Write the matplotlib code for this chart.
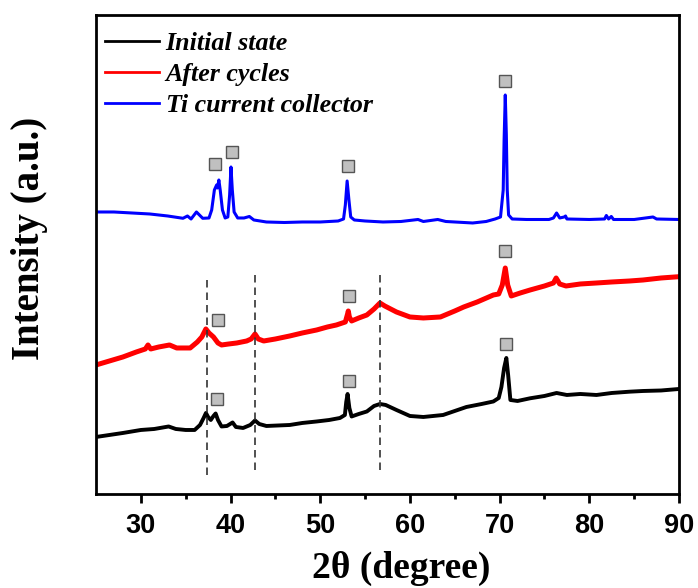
import matplotlib
matplotlib.use("Agg")
import matplotlib.pyplot as plt

# 2-theta positions (degree) and stacked intensities (a.u.) for each pattern
ti_2theta = [25.0, 27.0, 29.0, 31.0, 33.0, 34.7, 35.2, 35.6, 36.2, 36.9, 37.6, 37.9,
             38.2, 38.45, 38.55, 38.7, 38.85, 39.1, 39.4, 39.7, 39.9, 40.05, 40.2, 40.4,
             40.8, 41.5, 42.1, 42.6, 44.0, 46.0, 48.0, 50.0, 52.0, 52.6, 52.8, 53.0,
             53.2, 53.4, 53.8, 55.0, 57.0, 59.0, 60.9, 61.5, 63.1, 64.0, 66.0, 67.0,
             68.5, 69.5, 70.1, 70.4, 70.5, 70.63, 70.75, 70.85, 71.0, 71.4, 73.0, 75.5,
             76.0, 76.35, 76.7, 77.2, 77.35, 77.5, 80.0, 81.7, 81.9, 82.15, 82.45, 82.7,
             85.0, 87.1, 87.5, 90.0]
ti_intensity = [288, 288, 287, 286, 284, 281.7, 284, 281, 288, 281.7, 282, 290,
                310, 315, 312, 320, 310, 290, 282, 283, 305, 333, 310, 288,
                282, 282, 283.5, 280, 278, 277.5, 278, 278, 279, 281, 295, 319,
                300, 283, 280, 279, 278, 278.5, 280.5, 278.5, 280.5, 278.5, 277.5, 277,
                278.5, 281, 283, 310, 360, 405, 365, 310, 285, 281, 280.5, 280.5,
                282, 287, 282, 283, 284, 281, 280.5, 281, 284.5, 281, 283.5, 280.5,
                280.5, 283, 281, 280.5]

cyc_2theta = [25.0, 26.5, 28.0, 29.5, 30.5, 30.8, 31.1, 32.0, 33.2, 34.0, 35.5, 36.3,
              36.8, 37.25, 37.6, 38.1, 38.6, 39.0, 39.8, 40.7, 41.8, 42.3, 42.73, 43.1,
              43.7, 45.0, 46.6, 48.0, 49.6, 50.8, 51.8, 52.8, 53.05, 53.13, 53.25, 53.5,
              54.3, 55.2, 56.0, 56.66, 57.2, 58.5, 60.0, 61.5, 63.4, 65.0, 66.0, 67.5,
              69.3, 69.9, 70.3, 70.63, 70.9, 71.3, 72.3, 73.4, 75.0, 76.0, 76.3, 76.7,
              77.4, 79.0, 80.8, 82.5, 84.5, 86.0, 88.0, 90.0]
cyc_intensity = [135, 139, 143, 148, 151, 155, 151, 153, 155, 152, 152, 158,
                 163, 171, 167, 163, 157, 155, 156, 157, 159, 161, 166, 161,
                 159, 161, 164, 167, 170, 173, 175, 178, 186, 189, 183, 179,
                 182, 185, 191, 197, 194, 188, 183, 182, 183, 189, 193, 198,
                 205, 206, 215, 232, 215, 204, 207, 210, 214, 217, 222, 216,
                 214, 216, 217, 218, 219, 220, 222, 223.3]

init_2theta = [25.0, 26.5, 28.0, 30.0, 31.5, 33.1, 33.9, 35.0, 36.0, 36.6, 37.0, 37.26,
               37.5, 37.8, 38.1, 38.34, 38.6, 39.0, 39.6, 40.23, 40.6, 41.4, 42.2, 42.73,
               43.2, 44.0, 46.6, 48.0, 49.6, 51.0, 52.2, 52.75, 52.9, 53.05, 53.25, 53.5,
               54.3, 55.2, 56.0, 56.66, 57.3, 58.5, 60.0, 61.5, 63.7, 65.0, 66.3, 68.0,
               69.3, 69.9, 70.2, 70.5, 70.75, 70.95, 71.2, 72.0, 73.4, 75.0, 76.35, 77.5,
               79.0, 80.8, 82.5, 84.5, 86.0, 88.0, 90.0]
init_intensity = [63, 65, 67, 70, 71, 73.5, 71, 70, 70, 75, 82, 87,
                  83, 80, 84, 86.5, 80, 73.5, 74, 77.5, 73, 72, 75, 79.5,
                  76, 74, 75, 77, 78.5, 80, 82, 85, 98, 106, 92, 83.5,
                  86, 88.5, 94, 96, 95, 90, 84, 83, 85, 89, 93, 96,
                  98.5, 102, 113, 132, 142, 125, 100, 99, 101.7, 104, 107, 105,
                  106, 105, 107, 108.3, 109, 109.5, 111]

# Ti reflections marked on each pattern
ti_mark_2theta = [38.27, 40.2, 53.06, 70.6]
ti_mark_level = [336, 348, 334.3, 419]
cyc_mark_2theta = [38.56, 53.25, 70.6]
cyc_mark_level = [180, 204, 249]
init_mark_2theta = [38.45, 53.25, 70.67]
init_mark_level = [100.7, 119.3, 156]

# reference reflections (dashed guides)
guide_2theta = [37.33, 42.73, 56.66]
guide_bottom = [25, 30, 30]
guide_top = [222, 227, 227]

fig = plt.figure(figsize=(6.98, 5.88), dpi=100)
ax = fig.add_axes([0.1375, 0.1599, 0.8353, 0.8146])

ax.plot(init_2theta, init_intensity, color="black", lw=2.8, label="Initial state")
ax.plot(cyc_2theta, cyc_intensity, color="#ff0000", lw=3.6, label="After cycles")
ax.plot(ti_2theta, ti_intensity, color="#0000ff", lw=2.2, label="Ti current collector")

for gx, gb, gt in zip(guide_2theta, guide_bottom, guide_top):
    ax.plot([gx, gx], [gb, gt], color="#333333", lw=1.2, ls=(0, (4.5, 3)))

mk = dict(ls="none", marker="s", ms=8, mfc="#c0c0c0", mec="#555555", mew=1.0)
ax.plot(ti_mark_2theta, ti_mark_level, **mk)
ax.plot(cyc_mark_2theta, cyc_mark_level, **mk)
ax.plot(init_mark_2theta, init_mark_level, **mk)

ax.set_xlim(25, 90)
ax.set_ylim(6, 485)
ax.set_xticks([30, 40, 50, 60, 70, 80, 90])
ax.set_xticks([35, 45, 55, 65, 75, 85], minor=True)
ax.set_yticks([])
ax.tick_params(axis="x", which="major", direction="out", length=6.5, width=2.0, pad=7)
ax.tick_params(axis="x", which="minor", direction="out", length=3.5, width=2.0)
for lab in ax.get_xticklabels():
    lab.set_fontfamily("Liberation Sans")
    lab.set_fontweight("bold")
    lab.set_fontsize(19.5)
for sp in ax.spines.values():
    sp.set_linewidth(2.0)

ax.set_xlabel("2θ (degree)", fontfamily="Liberation Serif", fontweight="bold",
              fontsize=27)
ax.xaxis.set_label_coords(0.523, -0.119)
ax.set_ylabel("Intensity (a.u.)", fontfamily="Liberation Serif", fontweight="bold",
              fontsize=28)
ax.yaxis.set_label_coords(-0.0815, 0.534)

leg = ax.legend(loc="upper left", bbox_to_anchor=(0.0154, 0.9656), frameon=False,
                prop=dict(family="Liberation Serif", weight="bold", style="italic", size=18.7),
                handlelength=2.1, handletextpad=0.24, labelspacing=0.30,
                borderaxespad=0.0, borderpad=0.0)
for h in leg.get_lines():
    h.set_linewidth(2.0)

fig.savefig("out.png", dpi=100)
